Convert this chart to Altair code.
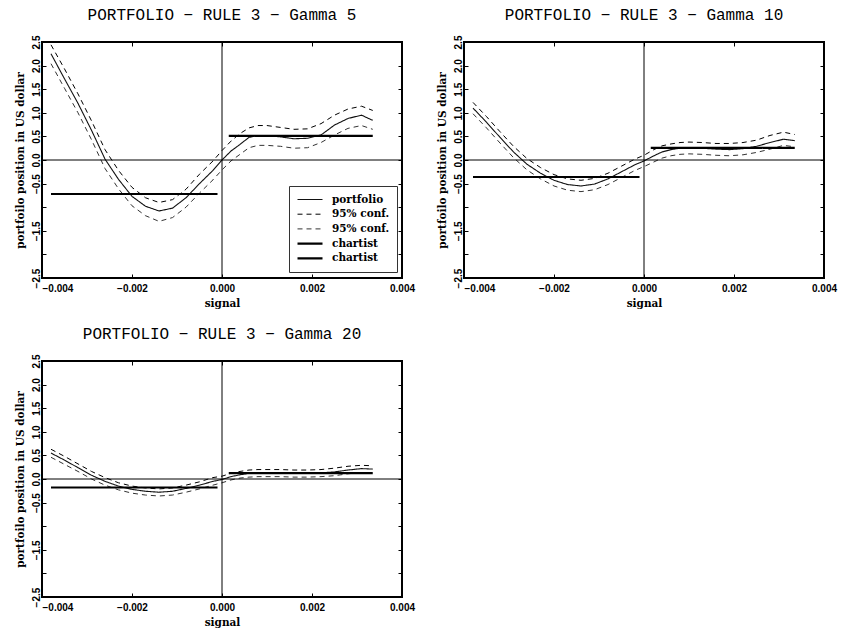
import altair as alt
import pandas as pd

# Signal grid shared by all panels
signal = [-0.0038, -0.0035, -0.0032, -0.0029, -0.0026, -0.0023, -0.0020, -0.0017,
          -0.0014, -0.0011, -0.0008, -0.0005, -0.0002, 0.0, 0.0002, 0.0004, 0.0006,
          0.0008, 0.0010, 0.0013, 0.0016, 0.0019, 0.0022, 0.0025, 0.0028, 0.0031, 0.00335]

# Gamma 5
port_g5 = [2.25, 1.72, 1.20, 0.63, 0.02, -0.41, -0.77, -0.98, -1.08, -1.02, -0.80, -0.50, -0.22,
           0.0, 0.19, 0.33, 0.48, 0.52, 0.52, 0.49, 0.45, 0.46, 0.53, 0.74, 0.88, 0.95, 0.84]
upper_g5 = [2.44, 1.93, 1.40, 0.83, 0.22, -0.22, -0.58, -0.80, -0.90, -0.84, -0.62, -0.30, -0.02,
            0.20, 0.40, 0.56, 0.68, 0.73, 0.73, 0.69, 0.65, 0.66, 0.77, 0.95, 1.08, 1.14, 1.05]
lower_g5 = [2.04, 1.52, 1.00, 0.43, -0.18, -0.61, -0.97, -1.18, -1.30, -1.22, -1.00, -0.70, -0.42,
            -0.21, -0.02, 0.12, 0.26, 0.31, 0.31, 0.29, 0.25, 0.26, 0.37, 0.53, 0.67, 0.73, 0.65]

# Gamma 10
port_g10 = [1.10, 0.80, 0.48, 0.17, -0.09, -0.28, -0.43, -0.52, -0.55, -0.51, -0.40, -0.25, -0.10,
            -0.02, 0.08, 0.17, 0.22, 0.25, 0.26, 0.25, 0.23, 0.22, 0.24, 0.29, 0.37, 0.44, 0.41]
upper_g10 = [1.22, 0.92, 0.60, 0.29, 0.03, -0.16, -0.31, -0.40, -0.43, -0.39, -0.28, -0.13, 0.02,
             0.10, 0.21, 0.30, 0.34, 0.37, 0.38, 0.37, 0.35, 0.35, 0.37, 0.42, 0.52, 0.59, 0.54]
lower_g10 = [0.98, 0.68, 0.36, 0.05, -0.21, -0.40, -0.55, -0.64, -0.67, -0.63, -0.52, -0.37, -0.22,
             -0.14, -0.05, 0.04, 0.09, 0.12, 0.13, 0.12, 0.10, 0.09, 0.11, 0.16, 0.23, 0.31, 0.28]

# Gamma 20
port_g20 = [0.55, 0.40, 0.24, 0.08, -0.05, -0.15, -0.22, -0.26, -0.28, -0.26, -0.20, -0.13, -0.05,
            -0.01, 0.05, 0.09, 0.12, 0.13, 0.13, 0.13, 0.12, 0.12, 0.13, 0.15, 0.19, 0.22, 0.21]
upper_g20 = [0.63, 0.48, 0.32, 0.16, 0.03, -0.08, -0.15, -0.19, -0.21, -0.19, -0.13, -0.06, 0.03,
             0.06, 0.12, 0.16, 0.19, 0.20, 0.20, 0.20, 0.19, 0.19, 0.20, 0.23, 0.27, 0.29, 0.28]
lower_g20 = [0.46, 0.31, 0.16, 0.00, -0.13, -0.23, -0.30, -0.34, -0.36, -0.34, -0.28, -0.21, -0.13,
             -0.08, -0.02, 0.02, 0.04, 0.05, 0.05, 0.05, 0.04, 0.04, 0.05, 0.07, 0.11, 0.14, 0.13]

# Chartist rule: constant position for negative and positive signals
chartist_neg_x = [-0.0038, -0.0001]
chartist_pos_x = [0.00015, 0.00335]
chartist_levels = {5: (-0.72, 0.51), 10: (-0.36, 0.255), 20: (-0.18, 0.125)}

x_ticks = [-0.004, -0.002, 0.0, 0.002, 0.004]
y_ticks = [-2.5, -2.0, -1.5, -1.0, -0.5, 0.0, 0.5, 1.0, 1.5, 2.0, 2.5]

series_order = ["portfolio", "95% conf. (upper)", "95% conf. (lower)",
                "chartist (neg)", "chartist (pos)"]
series_color = ["#111111", "black", "#333333", "black", "black"]
series_dash = [[1, 0], [5, 4], [5, 4], [1, 0], [1, 0]]
series_width = [1.1, 1.0, 1.0, 2.2, 2.2]

SERIF = "DejaVu Serif"
SANS = "Liberation Sans"

x_scale = alt.Scale(domain=[-0.004, 0.004], nice=False, zero=False)
y_scale = alt.Scale(domain=[-2.5, 2.5], nice=False, zero=False)


def build_frame(port, upper, lower, levels):
    rows = []
    for name, vals in (("portfolio", port), ("95% conf. (upper)", upper),
                       ("95% conf. (lower)", lower)):
        rows += [{"signal": s, "value": v, "series": name} for s, v in zip(signal, vals)]
    rows += [{"signal": s, "value": levels[0], "series": "chartist (neg)"} for s in chartist_neg_x]
    rows += [{"signal": s, "value": levels[1], "series": "chartist (pos)"} for s in chartist_pos_x]
    return pd.DataFrame(rows)


def panel(gamma, port, upper, lower, show_legend):
    df = build_frame(port, upper, lower, chartist_levels[gamma])
    if show_legend:
        legend = alt.Legend(
            title=None, orient="none", legendX=247, legendY=144,
            labelExpr="split(datum.label, ' (')[0]",
            labelFont=SERIF, labelFontWeight="bold", labelFontSize=10.5, labelColor="black",
            symbolType="stroke", symbolSize=625,
            clipHeight=13, rowPadding=1.7, labelOffset=8,
            padding=7, strokeColor="#333333", fillColor="white",
        )
    else:
        legend = None

    lines = alt.Chart(df).mark_line().encode(
        x=alt.X("signal:Q", scale=x_scale, axis=alt.Axis(
            values=x_ticks, format=".3f", title="signal", orient="bottom",
            offset=-4, tickSize=4, tickColor="black", domain=False, grid=False,
            labelFont=SANS, labelFontWeight="bold", labelFontSize=10, labelColor="black",
            labelPadding=5,
            labelAlign={"condition": {"test": "datum.value < -0.0039", "value": "left"},
                        "value": "center"},
            titleFont=SERIF, titleFontWeight="bold", titleFontSize=10.5, titleColor="black",
            titlePadding=5,
        )),
        y=alt.Y("value:Q", scale=y_scale, axis=alt.Axis(
            values=y_ticks, title="portfoilo position in US dollar", orient="left",
            labelExpr="datum.value == -1 || datum.value == -2 ? '' : format(datum.value, '.1f')",
            offset=-4, tickSize=4, tickColor="black", domain=False, grid=False,
            labelAngle=270, labelAlign="center", labelBaseline="bottom",
            labelFont=SANS, labelFontWeight="bold", labelFontSize=10, labelColor="black",
            labelPadding=1,
            titleFont=SERIF, titleFontWeight="bold", titleFontSize=10.5, titleColor="black",
            titlePadding=6,
        )),
        color=alt.Color("series:N", scale=alt.Scale(type="ordinal", domain=series_order,
                                                    range=series_color), legend=legend),
        strokeDash=alt.StrokeDash("series:N", scale=alt.Scale(type="ordinal", domain=series_order,
                                                              range=series_dash), legend=legend),
        strokeWidth=alt.StrokeWidth("series:N", scale=alt.Scale(type="ordinal",
                                                                domain=series_order,
                                                                range=series_width),
                                    legend=legend),
    )

    zero_df = pd.DataFrame({"z": [0.0]})
    h_zero = alt.Chart(zero_df).mark_rule(color="black", strokeWidth=1).encode(
        y=alt.Y("z:Q", scale=y_scale, axis=alt.Axis(
            values=y_ticks, orient="right", labels=False, title=None, domain=False,
            grid=False, offset=-4, tickSize=4, tickColor="black")),
    )
    v_zero = alt.Chart(zero_df).mark_rule(color="black", strokeWidth=1).encode(
        x=alt.X("z:Q", scale=x_scale, axis=alt.Axis(
            values=x_ticks, orient="top", labels=False, title=None, domain=False,
            grid=False, offset=-4, tickSize=4, tickColor="black")),
    )

    return alt.layer(lines, h_zero, v_zero).resolve_scale(
        x="independent", y="independent"
    ).properties(
        width=360, height=236,
        title=alt.TitleParams(
            f"PORTFOLIO − RULE 3 − Gamma {gamma}", font="Liberation Mono", fontSize=16,
            fontWeight="normal", color="black", anchor="middle", frame="group", offset=12,
        ),
    )


p5 = panel(5, port_g5, upper_g5, lower_g5, True)
p10 = panel(10, port_g10, upper_g10, lower_g10, False)
p20 = panel(20, port_g20, upper_g20, lower_g20, False)

chart = alt.vconcat(
    alt.hconcat(p5, p10, spacing=20),
    p20,
    spacing=15,
).resolve_scale(
    color="independent", strokeDash="independent", strokeWidth="independent"
).resolve_legend(
    color="independent", strokeDash="independent", strokeWidth="independent"
).properties(
    padding={"left": 14, "top": 6, "right": 0, "bottom": 0},
    background="white",
).configure_view(
    stroke="black", strokeWidth=2
)

chart.save("out.html", embed_options={"renderer": "svg", "actions": False})
